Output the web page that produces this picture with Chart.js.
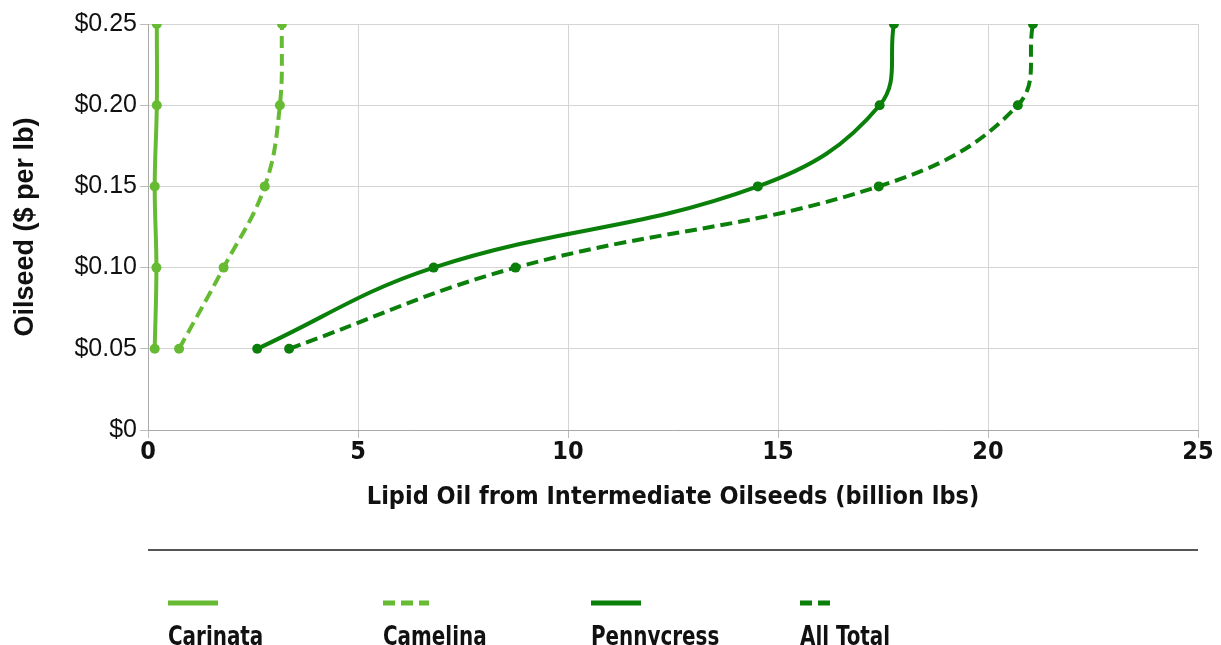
<!DOCTYPE html>
<html>
<head>
<meta charset="utf-8">
<script src="https://cdn.jsdelivr.net/npm/chart.js@4"></script>
<style>
  html, body { margin: 0; padding: 0; background: #fff; }
  #wrap { width: 1221px; height: 645px; }
</style>
</head>
<body>
<div id="wrap"><canvas id="chart1" width="1221" height="645"></canvas></div>
<script>
const prices = [0.05, 0.10, 0.15, 0.20, 0.25];
const carinata = [0.16, 0.20, 0.16, 0.21, 0.21];
const camelina = [0.74, 1.80, 2.78, 3.14, 3.19];
const pennycress = [2.60, 6.80, 14.52, 17.42, 17.76];
const allTotal = [3.36, 8.75, 17.40, 20.71, 21.07];
const seriesNames = ['Carinata', 'Camelina', 'Pennycress', 'All Total'];
const xTicks = [0, 5, 10, 15, 20, 25];

const lightGreen = '#66bb33';
const darkGreen = '#0a7f0a';
const narrow = '"Liberation Sans Narrow", "DejaVu Sans Condensed", "Liberation Sans", sans-serif';

function pts(xs) {
  return xs.map((v, i) => ({ x: v, y: prices[i] }));
}

function ds(label, xs, color, dashed) {
  return {
    label: label,
    data: pts(xs),
    borderColor: color,
    backgroundColor: color,
    borderWidth: 4,
    borderDash: dashed ? [12, 6] : [],
    pointRadius: 5,
    pointHoverRadius: 5,
    pointBorderWidth: 0,
    tension: 0.4,
    fill: false
  };
}

// legend drawn under the plot: line sample above the name
const bottomLegend = {
  id: 'bottomLegend',
  afterDraw(chart) {
    const ctx = chart.ctx;
    ctx.save();
    // separator
    ctx.strokeStyle = '#555';
    ctx.lineWidth = 2;
    ctx.beginPath();
    ctx.moveTo(148, 550);
    ctx.lineTo(1198, 550);
    ctx.stroke();

    const xs = [168, 383, 591, 800];
    const lens = [50, 46, 50, 36];
    chart.data.datasets.forEach((d, i) => {
      ctx.strokeStyle = d.borderColor;
      ctx.lineWidth = 5;
      ctx.setLineDash(d.borderDash);
      ctx.beginPath();
      ctx.moveTo(xs[i], 603);
      ctx.lineTo(xs[i] + lens[i], 603);
      ctx.stroke();
      ctx.setLineDash([]);
      // tall, squeezed lettering like the source
      ctx.save();
      ctx.translate(xs[i], 645);
      ctx.scale(0.82, 1);
      ctx.fillStyle = '#111';
      ctx.font = 'bold 27px ' + narrow;
      ctx.textBaseline = 'alphabetic';
      ctx.textAlign = 'left';
      ctx.fillText(d.label, 0, 0);
      ctx.restore();
    });
    ctx.restore();
  }
};

const ctx1 = document.getElementById('chart1').getContext('2d');

new Chart(ctx1, {
  type: 'line',
  data: {
    datasets: [
      ds(seriesNames[0], carinata, lightGreen, false),
      ds(seriesNames[1], camelina, lightGreen, true),
      ds(seriesNames[2], pennycress, darkGreen, false),
      ds(seriesNames[3], allTotal, darkGreen, true)
    ]
  },
  options: {
    responsive: false,
    animation: false,
    layout: {
      autoPadding: false,
      padding: { left: 0, top: 24, right: 23, bottom: 105 }
    },
    plugins: {
      legend: { display: false },
      tooltip: { enabled: false }
    },
    scales: {
      x: {
        type: 'linear',
        min: 0,
        max: 25,
        afterFit: s => { s.height = 110; },
        afterBuildTicks: s => { s.ticks = xTicks.map(v => ({ value: v })); },
        ticks: {
          color: '#111',
          padding: -1,
          font: { family: narrow, size: 25, weight: 'bold' }
        },
        grid: { color: '#d4d4d4', tickLength: 8, tickColor: '#bbb' },
        border: { color: '#aaa', width: 1 },
        title: {
          display: true,
          text: 'Lipid Oil from Intermediate Oilseeds (billion lbs)',
          color: '#111',
          padding: { top: 0, bottom: 28 },
          font: { family: narrow, size: 25, weight: 'bold' }
        }
      },
      y: {
        min: 0,
        max: 0.25,
        afterFit: s => { s.width = 148; },
        ticks: {
          stepSize: 0.05,
          color: '#111',
          padding: 3,
          font: { family: '"Liberation Sans", Arial, sans-serif', size: 25 },
          callback: v => v === 0 ? '$0' : '$' + v.toFixed(2)
        },
        grid: { color: '#d4d4d4', tickLength: 8, tickColor: '#bbb' },
        border: { color: '#aaa', width: 1 },
        title: {
          display: true,
          text: 'Oilseed ($ per lb)',
          color: '#111',
          padding: { top: 9, bottom: 0 },
          font: { family: '"Liberation Sans", Arial, sans-serif', size: 27, weight: 'bold' }
        }
      }
    }
  },
  plugins: [bottomLegend]
});
</script>
</body>
</html>
